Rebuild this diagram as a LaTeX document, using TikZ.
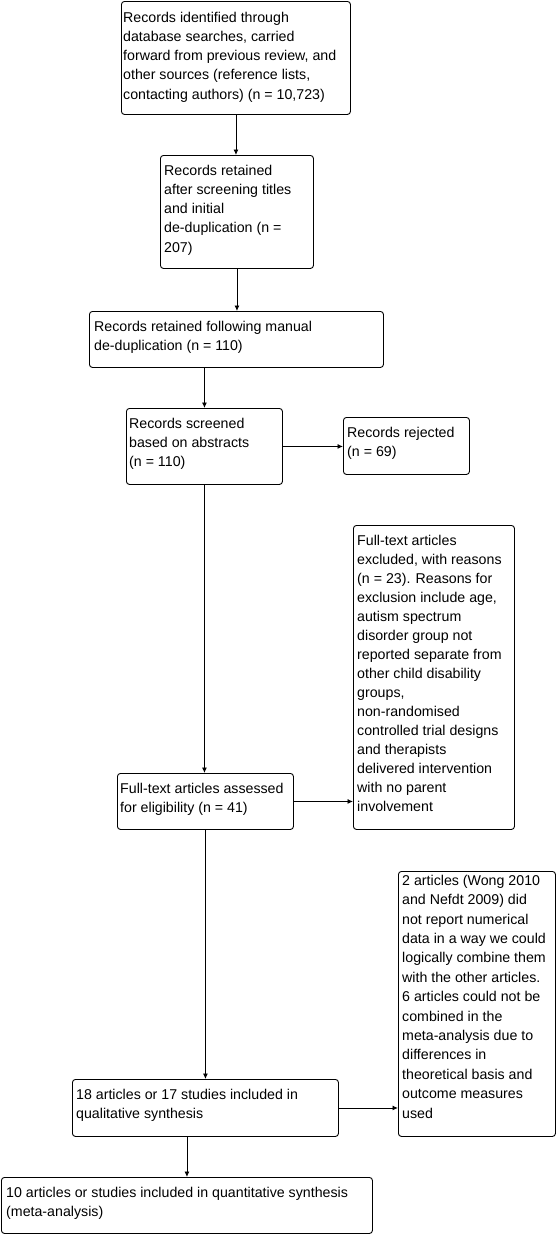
\documentclass[tikz,border=0pt]{standalone}
\usepackage{fontspec}
\setmainfont{Liberation Sans}
\usetikzlibrary{arrows.meta}
\begin{document}
\begin{tikzpicture}[x=1pt,y=-1pt,
  box/.style={draw=black, line width=0.9pt, rounded corners=3pt, inner sep=0pt, anchor=north west},
  txt/.style={anchor=north west, inner sep=0pt, align=left, font=\fontsize{14.2}{19.2}\selectfont},
  arr/.style={line width=0.9pt, -{Latex[length=5.5pt,width=5pt]}}]
\useasboundingbox (0,0) rectangle (556,1235);
% boxes
\node[box, minimum width=229pt, minimum height=113pt] (b1) at (121,1) {};
\node[box, minimum width=153pt, minimum height=113pt] (b2) at (160,155) {};
\node[box, minimum width=294pt, minimum height=56pt] (b3) at (89,311) {};
\node[box, minimum width=156pt, minimum height=76pt] (b4) at (126,408) {};
\node[box, minimum width=126pt, minimum height=57pt] (rej) at (343,417) {};
\node[box, minimum width=161pt, minimum height=304pt] (b5) at (353,525) {};
\node[box, minimum width=176pt, minimum height=56pt] (b6) at (117,773) {};
\node[box, minimum width=157pt, minimum height=265pt] (b7) at (398,871) {};
\node[box, minimum width=266pt, minimum height=57pt] (b8) at (72,1079) {};
\node[box, minimum width=371pt, minimum height=56pt] (b9) at (1,1177) {};
% texts
\node[txt] (t1) at (123,8) {\rule{0pt}{14pt}Records identified through\\database searches, carried\\forward from previous review, and\\other sources (reference lists,\\contacting authors) (n = 10,723)};
\node[txt] (t2) at (164,161) {\rule{0pt}{14pt}Records retained\\after screening titles\\and initial\\de-duplication (n =\\207)};
\node[txt] (t3) at (94,317) {\rule{0pt}{14pt}Records retained following manual\\de-duplication (n = 110)};
\node[txt] (t4) at (129,414) {\rule{0pt}{14pt}Records screened\\based on abstracts\\(n = 110)};
\node[txt] (trej) at (347,423) {\rule{0pt}{14pt}Records rejected\\(n = 69)};
\node[txt, font=\fontsize{14.2}{19}\selectfont] (t5) at (357,531) {\rule{0pt}{14pt}Full-text articles\\excluded, with reasons\\(n = 23). Reasons for\\exclusion include age,\\autism spectrum\\disorder group not\\reported separate from\\other child disability\\groups,\\non-randomised\\controlled trial designs\\and therapists\\delivered intervention\\with no parent\\involvement};
\node[txt] (t6) at (120,779) {\rule{0pt}{14pt}Full-text articles assessed\\for eligibility (n = 41)};
\node[txt, font=\fontsize{14.2}{19.4}\selectfont] (t7) at (402,871) {\rule{0pt}{14pt}2 articles (Wong 2010\\and Nefdt 2009) did\\not report numerical\\data in a way we could\\logically combine them\\with the other articles.\\6 articles could not be\\combined in the\\meta-analysis due to\\differences in\\theoretical basis and\\outcome measures\\used};
\node[txt] (t8) at (76,1085) {\rule{0pt}{14pt}18 articles or 17 studies included in\\qualitative synthesis};
\node[txt] (t9) at (6,1183) {\rule{0pt}{14pt}10 articles or studies included in quantitative synthesis\\(meta-analysis)};
% connectors
\draw[arr] (b1.south) -- (b1.south |- b2.north);
\draw[arr] (b2.south) -- (b2.south |- b3.north);
\draw[arr] (b4.north |- b3.south) -- (b4.north);
\draw[arr] (b4.east) -- (b4.east -| rej.west);
\draw[arr] (b4.south) -- (b4.south |- b6.north);
\draw[arr] (b6.east) -- (b6.east -| b5.west);
\draw[arr] (b6.south) -- (b6.south |- b8.north);
\draw[arr] (b8.east) -- (b8.east -| b7.west);
\draw[arr] (b9.north |- b8.south) -- (b9.north);
\end{tikzpicture}
\end{document}
